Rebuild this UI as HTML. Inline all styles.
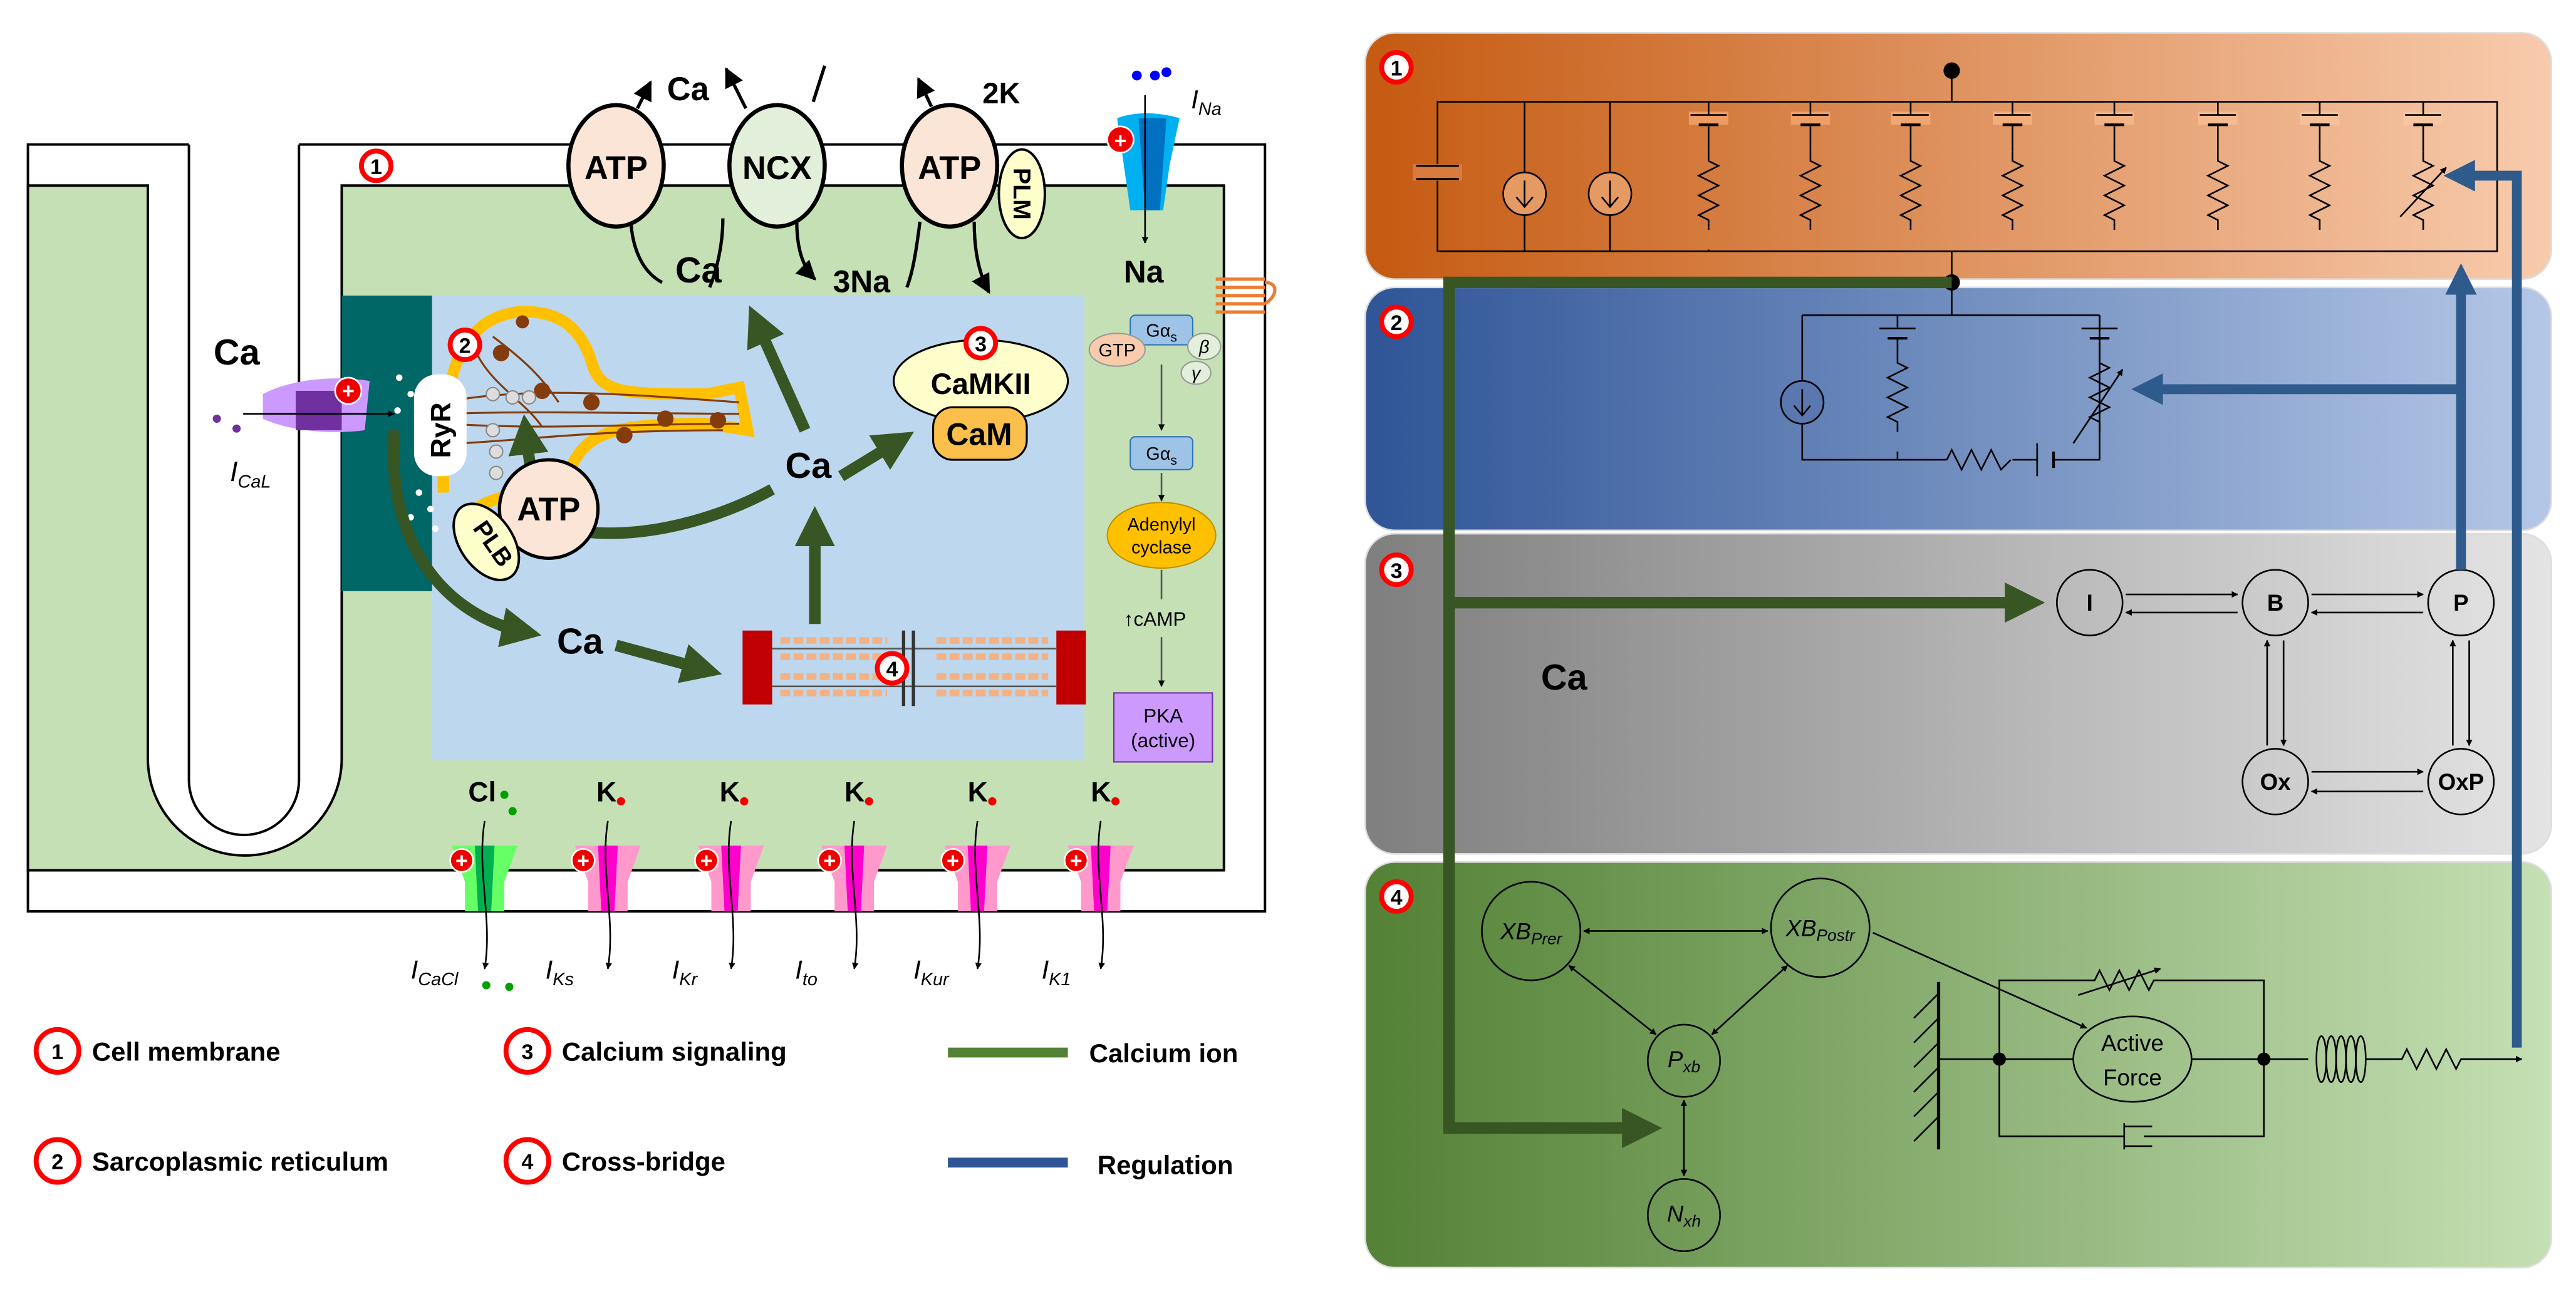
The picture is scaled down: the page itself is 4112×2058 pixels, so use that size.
<!DOCTYPE html>
<html><head><meta charset="utf-8"><style>
html,body{margin:0;padding:0;background:#fff}
svg{display:block}
text{font-family:"Liberation Sans",sans-serif}
</style></head><body>
<svg width="4112" height="2058" viewBox="0 0 1568 785" preserveAspectRatio="none" xmlns="http://www.w3.org/2000/svg">
<defs>
<marker id="ab" viewBox="0 0 10 10" refX="9" refY="5" markerWidth="6" markerHeight="6" orient="auto-start-reverse"><path d="M0,0L10,5L0,10z" fill="#000"/></marker>
<marker id="abs" viewBox="0 0 10 10" refX="9" refY="5" markerWidth="4" markerHeight="4" orient="auto-start-reverse"><path d="M0,0L10,5L0,10z" fill="#000"/></marker>
<marker id="ag" viewBox="0 0 10 10" refX="6" refY="5" markerWidth="3.5" markerHeight="3.5" orient="auto"><path d="M0,0L10,5L0,10z" fill="#375623"/></marker>
<marker id="abl" viewBox="0 0 10 10" refX="6" refY="5" markerWidth="3.2" markerHeight="3.2" orient="auto"><path d="M0,0L10,5L0,10z" fill="#2e5b8c"/></marker>
<linearGradient id="g1" x1="0" x2="1"><stop offset="0" stop-color="#c55a11"/><stop offset="1" stop-color="#f8cbad"/></linearGradient>
<linearGradient id="g2" x1="0" x2="1"><stop offset="0" stop-color="#2f5597"/><stop offset="1" stop-color="#b4c7e7"/></linearGradient>
<linearGradient id="g3" x1="0" x2="1"><stop offset="0" stop-color="#7f7f7f"/><stop offset="1" stop-color="#e4e4e4"/></linearGradient>
<linearGradient id="g4" x1="0" x2="1"><stop offset="0" stop-color="#538135"/><stop offset="1" stop-color="#c5e0b4"/></linearGradient>
<g id="res"><path d="M0,0 v6 l6,3 l-12,6 l12,6 l-12,6 l12,6 l-12,6 l6,3 v6" fill="none" stroke="#000" stroke-width="1"/></g>
<g id="bat"><line x1="-11" y1="0" x2="11" y2="0" stroke="#000"/><line x1="-6" y1="6" x2="6" y2="6" stroke="#000" stroke-width="1.6"/></g>
<g id="chK"><path d="M-20,-10 H20 L12,12 V30 H-12 V12 Z" fill="#ff99cc"/><path d="M-6,-10 H6 L4,30 H-4 Z" fill="#ff00cc"/></g>
</defs>

<!-- LEFT CELL -->
<rect x="17" y="88" width="753" height="467" fill="#fff"/>
<path d="M115,88 H17 V555 H770 V88 H182" fill="none" stroke="#000" stroke-width="1.5"/>
<path d="M17,113 H90 V462 A59,59 0 0 0 208,462 V113 H745 V530 H17 Z" fill="#c5e0b4" stroke="#000" stroke-width="1.5"/>
<path d="M115,88 V475 A33.5,33.5 0 0 0 182,475 V88" fill="#fff" stroke="#000" stroke-width="1.5"/>
<rect x="115.8" y="80" width="65.4" height="9" fill="#fff"/>
<rect x="263" y="180" width="397" height="283" fill="#bdd7ee"/>
<rect x="208" y="180" width="55" height="180" fill="#006666"/>

<!-- SR -->
<path d="M270,300 C268,240 275,195 315,190 C345,188 355,205 360,220 C365,240 380,240 430,240 L450,236 L455,262 L430,258 C380,258 360,262 350,280 C340,300 300,300 290,310" fill="none" stroke="#ffc000" stroke-width="7"/>
<g stroke="#843c0c" stroke-width="1.2" fill="none">
<path d="M270,245 C320,235 380,240 450,245"/><path d="M272,252 C330,250 390,252 450,252"/><path d="M272,258 C330,262 390,258 450,258"/><path d="M280,270 C320,268 360,262 440,262"/><path d="M300,205 C320,220 330,230 340,245"/><path d="M290,215 C300,235 320,245 330,260"/>
</g>
<g fill="#843c0c"><circle cx="305" cy="215" r="5"/><circle cx="330" cy="238" r="5"/><circle cx="360" cy="245" r="5"/><circle cx="380" cy="265" r="5"/><circle cx="405" cy="255" r="5"/><circle cx="437" cy="256" r="5"/><circle cx="318" cy="196" r="4"/></g>
<g fill="#ddd" stroke="#888" stroke-width="0.8"><circle cx="300" cy="240" r="4"/><circle cx="312" cy="242" r="4"/><circle cx="322" cy="242" r="4"/><circle cx="300" cy="262" r="4"/><circle cx="302" cy="275" r="4"/><circle cx="302" cy="288" r="4"/></g>
<rect x="252" y="228" width="32" height="62" rx="14" fill="#fff"/>
<text x="0" y="0" transform="translate(274,262) rotate(-90)" font-size="17" font-weight="bold" text-anchor="middle">RyR</text>
<g fill="#fff"><circle cx="243" cy="230" r="2"/><circle cx="250" cy="240" r="2"/><circle cx="242" cy="250" r="2"/><circle cx="255" cy="300" r="2"/><circle cx="262" cy="310" r="2"/><circle cx="250" cy="315" r="2"/><circle cx="265" cy="322" r="2"/></g>

<!-- L-type channel -->
<path d="M160,240 C175,232 200,228 225,232 L222,262 C200,265 175,262 160,255 Z" fill="#cc99ff"/>
<path d="M180,238 H208 V262 H180 Z" fill="#7030a0"/>
<line x1="148" y1="252" x2="240" y2="252" stroke="#000" marker-end="url(#abs)"/>
<circle cx="212" cy="238" r="8" fill="#e00" stroke="#fff"/><text x="212" y="242.5" font-size="13" font-weight="bold" fill="#fff" text-anchor="middle">+</text>
<circle cx="132" cy="255" r="2.5" fill="#7030a0"/><circle cx="144" cy="261" r="2.5" fill="#7030a0"/>
<text x="130" y="222" font-size="22" font-weight="bold">Ca</text>
<text x="140" y="293" font-size="17" font-style="italic">I<tspan font-size="11" dy="4">CaL</tspan></text>

<!-- top transporters -->
<g stroke="#000" stroke-width="2" fill="none">
<path d="M384,135 C385,150 390,165 403,172"/><path d="M388,66 L396,50" marker-end="url(#ab)"/>
<path d="M440,133 C440,150 436,165 432,175"/><path d="M454,66 L442,42" marker-end="url(#ab)"/>
<path d="M485,135 C485,150 488,162 496,170" marker-end="url(#ab)"/><path d="M495,62 L502,40"/>
<path d="M560,135 C558,150 556,165 552,175"/><path d="M567,65 L559,48" marker-end="url(#ab)"/>
<path d="M593,135 C593,150 595,165 602,178" marker-end="url(#ab)"/>
</g>
<ellipse cx="375" cy="101" rx="29" ry="37" fill="#fbe5d6" stroke="#000" stroke-width="2.5"/>
<text x="375" y="109" font-size="20" font-weight="bold" text-anchor="middle">ATP</text>
<ellipse cx="473" cy="101" rx="29" ry="37" fill="#e2efda" stroke="#000" stroke-width="2.5"/>
<text x="473" y="109" font-size="20" font-weight="bold" text-anchor="middle">NCX</text>
<ellipse cx="578" cy="101" rx="29" ry="37" fill="#fbe5d6" stroke="#000" stroke-width="2.5"/>
<text x="578" y="109" font-size="20" font-weight="bold" text-anchor="middle">ATP</text>
<ellipse cx="622" cy="118" rx="14" ry="27" fill="#ffffcc" stroke="#000" stroke-width="1.5"/>
<text transform="translate(622,118) rotate(90)" font-size="15" font-weight="bold" text-anchor="middle" dominant-baseline="central">PLM</text>
<text x="406" y="61" font-size="20" font-weight="bold">Ca</text>
<text x="598" y="63" font-size="18" font-weight="bold">2K</text>
<text x="411" y="172" font-size="22" font-weight="bold">Ca</text>
<text x="507" y="178" font-size="19" font-weight="bold">3Na</text>
<circle cx="229" cy="101" r="9" fill="#fff" stroke="#f00" stroke-width="3"/><text x="229" y="106" font-size="13" font-weight="bold" text-anchor="middle">1</text>

<!-- INa -->
<path d="M680,72 C690,68 705,68 718,72 L712,100 L708,128 H688 L684,100 Z" fill="#00b0f0"/>
<path d="M693,72 H710 L706,128 H697 Z" fill="#0070c0"/>
<circle cx="682" cy="85" r="8" fill="#e00" stroke="#fff"/><text x="682" y="90" font-size="13" font-weight="bold" fill="#fff" text-anchor="middle">+</text>
<line x1="697" y1="58" x2="697" y2="148" stroke="#000" marker-end="url(#abs)"/>
<circle cx="692" cy="46" r="3" fill="#0000ff"/><circle cx="703" cy="46" r="3" fill="#0000ff"/><circle cx="710" cy="44" r="3" fill="#0000ff"/>
<text x="725" y="66" font-size="16" font-style="italic">I<tspan font-size="11" dy="4">Na</tspan></text>
<text x="684" y="172" font-size="19" font-weight="bold">Na</text>
<path d="M740,170 h30 M740,175 h30 M740,180 h30 M740,185 h30 M740,190 h30 M770,172 c8,0 8,8 0,13" stroke="#ed7d31" stroke-width="2" fill="none"/>

<!-- signaling column -->
<rect x="688" y="192" width="38" height="18" rx="3" fill="#9dc3e6" stroke="#2e75b6" stroke-width="0.8"/>
<text x="707" y="205" font-size="11" text-anchor="middle">Gα<tspan font-size="8" dy="3">s</tspan></text>
<ellipse cx="680" cy="213" rx="17" ry="10" fill="#f8cbad" stroke="#999" stroke-width="0.8"/><text x="680" y="217" font-size="11" text-anchor="middle">GTP</text>
<ellipse cx="733" cy="211" rx="10" ry="8" fill="#e2efda" stroke="#999" stroke-width="0.8"/><text x="733" y="215" font-size="11" font-style="italic" text-anchor="middle">β</text>
<ellipse cx="728" cy="227" rx="9" ry="7" fill="#e2efda" stroke="#999" stroke-width="0.8"/><text x="728" y="231" font-size="11" font-style="italic" text-anchor="middle">γ</text>
<line x1="707" y1="222" x2="707" y2="262" stroke="#555" marker-end="url(#abs)"/>
<rect x="688" y="266" width="38" height="20" rx="3" fill="#9dc3e6" stroke="#2e75b6" stroke-width="0.8"/>
<text x="707" y="280" font-size="11" text-anchor="middle">Gα<tspan font-size="8" dy="3">s</tspan></text>
<line x1="707" y1="288" x2="707" y2="305" stroke="#555" marker-end="url(#abs)"/>
<ellipse cx="707" cy="326" rx="33" ry="20" fill="#ffc000" stroke="#bf9000" stroke-width="0.8"/>
<text x="707" y="323" font-size="11" text-anchor="middle">Adenylyl</text><text x="707" y="337" font-size="11" text-anchor="middle">cyclase</text>
<line x1="707" y1="347" x2="707" y2="365" stroke="#555"/>
<text x="703" y="381" font-size="12" text-anchor="middle">↑cAMP</text>
<line x1="707" y1="388" x2="707" y2="418" stroke="#555" marker-end="url(#abs)"/>
<rect x="678" y="422" width="60" height="42" fill="#cc99ff" stroke="#7030a0" stroke-width="0.8"/>
<text x="708" y="440" font-size="12" text-anchor="middle">PKA</text><text x="708" y="455" font-size="12" text-anchor="middle">(active)</text>

<!-- CaMKII -->
<ellipse cx="597" cy="232" rx="53" ry="25" fill="#ffffcc" stroke="#000" stroke-width="1.2"/>
<text x="597" y="240" font-size="18" font-weight="bold" text-anchor="middle">CaMKII</text>
<rect x="568" y="248" width="57" height="32" rx="12" fill="#fbc04c" stroke="#000" stroke-width="1.2"/>
<text x="596" y="271" font-size="19" font-weight="bold" text-anchor="middle">CaM</text>
<circle cx="597" cy="209" r="9" fill="#fff" stroke="#f00" stroke-width="3"/><text x="597" y="214" font-size="13" font-weight="bold" text-anchor="middle">3</text>
<circle cx="283" cy="210" r="9" fill="#fff" stroke="#f00" stroke-width="3"/><text x="283" y="215" font-size="13" font-weight="bold" text-anchor="middle">2</text>

<!-- myofilament -->
<g>
<rect x="452" y="384" width="18" height="45" fill="#c00000"/><rect x="643" y="384" width="18" height="45" fill="#c00000"/>
<line x1="470" y1="395" x2="643" y2="395" stroke="#555"/><line x1="470" y1="418" x2="643" y2="418" stroke="#555"/>
<g stroke="#f4b183" stroke-width="4" stroke-dasharray="6,2"><line x1="475" y1="390" x2="540" y2="390"/><line x1="475" y1="400" x2="540" y2="400"/><line x1="475" y1="412" x2="540" y2="412"/><line x1="475" y1="422" x2="540" y2="422"/><line x1="570" y1="390" x2="638" y2="390"/><line x1="570" y1="400" x2="638" y2="400"/><line x1="570" y1="412" x2="638" y2="412"/><line x1="570" y1="422" x2="638" y2="422"/></g>
<line x1="550" y1="384" x2="550" y2="430" stroke="#333" stroke-width="2"/><line x1="556" y1="384" x2="556" y2="430" stroke="#333" stroke-width="2"/>
<circle cx="543" cy="407" r="9" fill="#fff" stroke="#f00" stroke-width="3"/><text x="543" y="412" font-size="13" font-weight="bold" text-anchor="middle">4</text>
</g>

<!-- green Ca arrows -->
<g stroke="#375623" stroke-width="7" fill="none">
<path d="M490,262 L460,195" marker-end="url(#ag)"/>
<path d="M512,290 L548,268" marker-end="url(#ag)"/>
<path d="M496,380 L496,318" marker-end="url(#ag)"/>
<path d="M470,298 C430,320 380,330 345,322 C325,315 322,280 320,262" marker-end="url(#ag)"/>
<path d="M240,262 C235,330 270,375 320,385" marker-end="url(#ag)"/>
<path d="M375,393 L430,408" marker-end="url(#ag)"/>
</g>
<circle cx="334" cy="310" r="30" fill="#fbe5d6" stroke="#000" stroke-width="2"/>
<text x="334" y="317" font-size="20" font-weight="bold" text-anchor="middle">ATP</text>
<ellipse cx="296" cy="330" rx="16" ry="26" transform="rotate(-35 296 330)" fill="#ffffcc" stroke="#000" stroke-width="1.5"/>
<text transform="translate(296,334) rotate(55)" font-size="15" font-weight="bold" text-anchor="middle">PLB</text>
<text x="478" y="291" font-size="22" font-weight="bold">Ca</text>
<text x="339" y="398" font-size="22" font-weight="bold">Ca</text>

<!-- bottom channels -->
<path d="M275,515 H315 L307,537 V555 H283 V537 Z" fill="#66ff66"/><path d="M289,515 H301 L299,555 H291 Z" fill="#00b050"/>
<g transform="translate(370,525)"><use href="#chK"/></g>
<g transform="translate(445,525)"><use href="#chK"/></g>
<g transform="translate(520,525)"><use href="#chK"/></g>
<g transform="translate(595,525)"><use href="#chK"/></g>
<g transform="translate(670,525)"><use href="#chK"/></g>
<g stroke="#000" stroke-width="1" fill="none">
<path d="M295,500 C290,530 300,560 295,590" marker-end="url(#abs)"/>
<path d="M370,500 C365,530 375,560 370,590" marker-end="url(#abs)"/>
<path d="M445,500 C440,530 450,560 445,590" marker-end="url(#abs)"/>
<path d="M520,500 C515,530 525,560 520,590" marker-end="url(#abs)"/>
<path d="M595,500 C590,530 600,560 595,590" marker-end="url(#abs)"/>
<path d="M670,500 C665,530 675,560 670,590" marker-end="url(#abs)"/>
</g>
<g font-size="13" font-weight="bold" fill="#fff">
<circle cx="281" cy="524" r="7" fill="#e00" stroke="#fff"/><text x="281" y="528.5" text-anchor="middle">+</text>
<circle cx="355" cy="524" r="7" fill="#e00" stroke="#fff"/><text x="355" y="528.5" text-anchor="middle">+</text>
<circle cx="430" cy="524" r="7" fill="#e00" stroke="#fff"/><text x="430" y="528.5" text-anchor="middle">+</text>
<circle cx="505" cy="524" r="7" fill="#e00" stroke="#fff"/><text x="505" y="528.5" text-anchor="middle">+</text>
<circle cx="580" cy="524" r="7" fill="#e00" stroke="#fff"/><text x="580" y="528.5" text-anchor="middle">+</text>
<circle cx="655" cy="524" r="7" fill="#e00" stroke="#fff"/><text x="655" y="528.5" text-anchor="middle">+</text>
</g>
<g font-size="17" font-weight="bold">
<text x="285" y="488">Cl</text><text x="363" y="488">K</text><text x="438" y="488">K</text><text x="514" y="488">K</text><text x="589" y="488">K</text><text x="664" y="488">K</text>
</g>
<g fill="#00a000"><circle cx="307" cy="484" r="2.5"/><circle cx="312" cy="494" r="2.5"/><circle cx="296" cy="600" r="2.5"/><circle cx="310" cy="601" r="2.5"/></g>
<g fill="#e00"><circle cx="378" cy="488" r="2.5"/><circle cx="453" cy="488" r="2.5"/><circle cx="529" cy="488" r="2.5"/><circle cx="604" cy="488" r="2.5"/><circle cx="679" cy="488" r="2.5"/></g>
<g font-size="16" font-style="italic">
<text x="250" y="596">I<tspan font-size="11" dy="4">CaCl</tspan></text>
<text x="332" y="596">I<tspan font-size="11" dy="4">Ks</tspan></text>
<text x="409" y="596">I<tspan font-size="11" dy="4">Kr</tspan></text>
<text x="484" y="596">I<tspan font-size="11" dy="4">to</tspan></text>
<text x="556" y="596">I<tspan font-size="11" dy="4">Kur</tspan></text>
<text x="634" y="596">I<tspan font-size="11" dy="4">K1</tspan></text>
</g>

<!-- legend -->
<g font-size="16" font-weight="bold">
<circle cx="35" cy="640" r="13" fill="#fff" stroke="#f00" stroke-width="3"/><text x="35" y="645" font-size="13" text-anchor="middle">1</text><text x="56" y="646">Cell membrane</text>
<circle cx="35" cy="707" r="13" fill="#fff" stroke="#f00" stroke-width="3"/><text x="35" y="712" font-size="13" text-anchor="middle">2</text><text x="56" y="713">Sarcoplasmic reticulum</text>
<circle cx="321" cy="640" r="13" fill="#fff" stroke="#f00" stroke-width="3"/><text x="321" y="645" font-size="13" text-anchor="middle">3</text><text x="342" y="646">Calcium signaling</text>
<circle cx="321" cy="707" r="13" fill="#fff" stroke="#f00" stroke-width="3"/><text x="321" y="712" font-size="13" text-anchor="middle">4</text><text x="342" y="713">Cross-bridge</text>
<line x1="577" y1="641" x2="650" y2="641" stroke="#548235" stroke-width="6"/><text x="663" y="647">Calcium ion</text>
<line x1="577" y1="708" x2="650" y2="708" stroke="#2f5597" stroke-width="6"/><text x="668" y="715">Regulation</text>
</g>

<!-- RIGHT PANEL -->
<rect x="831" y="20" width="722" height="150" rx="18" fill="url(#g1)" stroke="#ddd"/>
<rect x="831" y="175" width="722" height="148" rx="18" fill="url(#g2)" stroke="#ddd"/>
<rect x="831" y="325" width="722" height="195" rx="18" fill="url(#g3)" stroke="#ddd"/>
<rect x="831" y="525" width="722" height="247" rx="18" fill="url(#g4)" stroke="#ddd"/>
<g font-size="13" font-weight="bold">
<circle cx="850" cy="41" r="9" fill="#fff" stroke="#f00" stroke-width="3"/><text x="850" y="46" text-anchor="middle">1</text>
<circle cx="850" cy="196" r="9" fill="#fff" stroke="#f00" stroke-width="3"/><text x="850" y="201" text-anchor="middle">2</text>
<circle cx="850" cy="347" r="9" fill="#fff" stroke="#f00" stroke-width="3"/><text x="850" y="352" text-anchor="middle">3</text>
<circle cx="850" cy="546" r="9" fill="#fff" stroke="#f00" stroke-width="3"/><text x="850" y="551" text-anchor="middle">4</text>
</g>

<!-- circuit 1 -->
<g stroke="#000" stroke-width="1" fill="none">
<rect x="875" y="62" width="645" height="91"/>
<line x1="1188" y1="43" x2="1188" y2="62"/><line x1="1188" y1="153" x2="1188" y2="172"/>
<line x1="928" y1="62" x2="928" y2="153"/><line x1="980" y1="62" x2="980" y2="153"/>
</g>
<rect x="860" y="100" width="30" height="10" fill="#d97b3e"/>
<line x1="862" y1="101" x2="888" y2="101" stroke="#000" stroke-width="1.2"/><line x1="862" y1="109" x2="888" y2="109" stroke="#000" stroke-width="1.2"/>
<g stroke="#000" fill="#e59a63"><circle cx="928" cy="118" r="13"/><circle cx="980" cy="118" r="13"/></g>
<g stroke="#000" fill="none"><path d="M928,110 v15 M923,120 l5,6 l5,-6 M980,110 v15 M975,120 l5,6 l5,-6"/></g>
<circle cx="1188" cy="43" r="5" fill="#000"/><circle cx="1188" cy="172" r="5" fill="#000"/>
<g>
<g transform="translate(1040,62)"><rect x="-12" y="6" width="24" height="8" fill="#ed9b62"/><line y1="0" y2="8" stroke="#000"/><use href="#bat" y="8"/><line y1="14" y2="30" stroke="#000"/><use href="#res" y="30"/><line y1="90" y2="91" stroke="#000"/></g>
<g transform="translate(1102,62)"><rect x="-12" y="6" width="24" height="8" fill="#ee9f68"/><line y1="0" y2="8" stroke="#000"/><use href="#bat" y="8"/><line y1="14" y2="30" stroke="#000"/><use href="#res" y="30"/></g>
<g transform="translate(1163,62)"><rect x="-12" y="6" width="24" height="8" fill="#f0a670"/><line y1="0" y2="8" stroke="#000"/><use href="#bat" y="8"/><line y1="14" y2="30" stroke="#000"/><use href="#res" y="30"/></g>
<g transform="translate(1225,62)"><rect x="-12" y="6" width="24" height="8" fill="#f2ad7b"/><line y1="0" y2="8" stroke="#000"/><use href="#bat" y="8"/><line y1="14" y2="30" stroke="#000"/><use href="#res" y="30"/></g>
<g transform="translate(1287,62)"><rect x="-12" y="6" width="24" height="8" fill="#f3b485"/><line y1="0" y2="8" stroke="#000"/><use href="#bat" y="8"/><line y1="14" y2="30" stroke="#000"/><use href="#res" y="30"/></g>
<g transform="translate(1350,62)"><rect x="-12" y="6" width="24" height="8" fill="#f5ba8f"/><line y1="0" y2="8" stroke="#000"/><use href="#bat" y="8"/><line y1="14" y2="30" stroke="#000"/><use href="#res" y="30"/></g>
<g transform="translate(1412,62)"><rect x="-12" y="6" width="24" height="8" fill="#f6c199"/><line y1="0" y2="8" stroke="#000"/><use href="#bat" y="8"/><line y1="14" y2="30" stroke="#000"/><use href="#res" y="30"/></g>
<g transform="translate(1475,62)"><rect x="-12" y="6" width="24" height="8" fill="#f7c6a3"/><line y1="0" y2="8" stroke="#000"/><use href="#bat" y="8"/><line y1="14" y2="30" stroke="#000"/><use href="#res" y="30"/><line x1="-14" y1="70" x2="14" y2="40" stroke="#000" marker-end="url(#abs)"/></g>
</g>

<!-- circuit 2 -->
<g stroke="#000" stroke-width="1" fill="none">
<path d="M1188,172 V192 M1097,192 H1278 M1097,192 V280 H1185 M1225,280 H1240 M1250,280 H1278 V192"/>
<line x1="1155" y1="192" x2="1155" y2="200"/><line x1="1155" y1="206" x2="1155" y2="215"/><line x1="1155" y1="275" x2="1155" y2="280"/>
<line x1="1278" y1="192" x2="1278" y2="200"/><line x1="1278" y1="206" x2="1278" y2="215"/>
<circle cx="1097" cy="245" r="13" fill="#5a77b0"/><path d="M1097,237 v15 M1092,247 l5,6 l5,-6"/>
<path d="M1185,280 l3,-6 l6,12 l6,-12 l6,12 l6,-12 l6,12 l6,-6"/>
<line x1="1240" y1="270" x2="1240" y2="290"/><line x1="1250" y1="275" x2="1250" y2="285" stroke-width="1.6"/>
<line x1="1262" y1="270" x2="1292" y2="225" marker-end="url(#abs)"/>
</g>
<use href="#bat" x="1155" y="200"/><use href="#res" x="1155" y="215"/>
<use href="#bat" x="1278" y="200"/><use href="#res" x="1278" y="215"/>

<!-- circuit 3 -->
<g stroke="#000" stroke-width="1" fill="none">
<circle cx="1272" cy="367" r="20"/><circle cx="1385" cy="367" r="20"/><circle cx="1498" cy="367" r="20"/><circle cx="1385" cy="476" r="20"/><circle cx="1498" cy="476" r="20"/>
<line x1="1294" y1="362" x2="1362" y2="362" marker-end="url(#abs)"/><line x1="1362" y1="373" x2="1294" y2="373" marker-end="url(#abs)"/>
<line x1="1407" y1="362" x2="1475" y2="362" marker-end="url(#abs)"/><line x1="1475" y1="373" x2="1407" y2="373" marker-end="url(#abs)"/>
<line x1="1407" y1="470" x2="1475" y2="470" marker-end="url(#abs)"/><line x1="1475" y1="482" x2="1407" y2="482" marker-end="url(#abs)"/>
<line x1="1380" y1="454" x2="1380" y2="390" marker-end="url(#abs)"/><line x1="1390" y1="390" x2="1390" y2="454" marker-end="url(#abs)"/>
<line x1="1493" y1="454" x2="1493" y2="390" marker-end="url(#abs)"/><line x1="1503" y1="390" x2="1503" y2="454" marker-end="url(#abs)"/>
</g>
<g font-size="14" font-weight="bold" text-anchor="middle">
<text x="1272" y="372">I</text><text x="1385" y="372">B</text><text x="1498" y="372">P</text><text x="1385" y="481">Ox</text><text x="1498" y="481">OxP</text>
</g>
<text x="938" y="420" font-size="22" font-weight="bold">Ca</text>

<!-- circuit 4 -->
<g stroke="#000" stroke-width="1" fill="none">
<circle cx="932" cy="567" r="30"/><circle cx="1108" cy="565" r="30"/><circle cx="1025" cy="646" r="22"/><circle cx="1025" cy="740" r="22"/>
<line x1="964" y1="567" x2="1076" y2="567" marker-end="url(#abs)" marker-start="url(#abs)"/>
<line x1="955" y1="588" x2="1008" y2="630" marker-end="url(#abs)" marker-start="url(#abs)"/>
<line x1="1088" y1="588" x2="1042" y2="630" marker-end="url(#abs)" marker-start="url(#abs)"/>
<line x1="1025" y1="670" x2="1025" y2="716" marker-end="url(#abs)" marker-start="url(#abs)"/>
<line x1="1140" y1="568" x2="1270" y2="626" marker-end="url(#abs)"/>
<line x1="1180" y1="598" x2="1180" y2="700" stroke-width="2"/>
<path d="M1180,605 l-15,15 M1180,620 l-15,15 M1180,635 l-15,15 M1180,650 l-15,15 M1180,665 l-15,15 M1180,680 l-15,15"/>
<line x1="1180" y1="645" x2="1262" y2="645"/><line x1="1334" y1="645" x2="1405" y2="645"/>
<path d="M1217,645 V597 H1275 l3,-6 l6,12 l6,-12 l6,12 l6,-12 l6,12 l3,-6 H1378 V692 H1305 M1293,692 H1217 V645"/>
<path d="M1293,684 V700 M1293,686 H1310 M1293,698 H1310"/>
<line x1="1265" y1="606" x2="1315" y2="590" marker-end="url(#abs)"/>
<ellipse cx="1298" cy="645" rx="36" ry="26"/>
<ellipse cx="1413" cy="645" rx="3" ry="14"/><ellipse cx="1419" cy="645" rx="3" ry="14"/><ellipse cx="1425" cy="645" rx="3" ry="14"/><ellipse cx="1431" cy="645" rx="3" ry="14"/><ellipse cx="1437" cy="645" rx="3" ry="14"/>
<path d="M1440,645 H1462 l3,-6 l6,12 l6,-12 l6,12 l6,-12 l6,12 l3,-6 H1535" marker-end="url(#abs)"/>
</g>
<circle cx="1217" cy="645" r="4" fill="#000"/><circle cx="1378" cy="645" r="4" fill="#000"/>
<g font-size="14" font-style="italic" text-anchor="middle">
<text x="932" y="572">XB<tspan font-size="10" dy="3">Prer</tspan></text>
<text x="1108" y="570">XB<tspan font-size="10" dy="3">Postr</tspan></text>
<text x="1025" y="650">P<tspan font-size="10" dy="3">xb</tspan></text>
<text x="1025" y="744">N<tspan font-size="10" dy="3">xh</tspan></text>
</g>
<text x="1298" y="640" font-size="14" text-anchor="middle">Active</text>
<text x="1298" y="661" font-size="14" text-anchor="middle">Force</text>

<!-- thick connectors -->
<g fill="none" stroke-linejoin="miter">
<path d="M1188,172 H882 V687 H1002" stroke="#375623" stroke-width="7" marker-end="url(#ag)"/>
<path d="M882,367 H1235" stroke="#375623" stroke-width="7" marker-end="url(#ag)"/>
<path d="M1498,347 V168" stroke="#2e5b8c" stroke-width="6" marker-end="url(#abl)"/>
<path d="M1498,237 H1305" stroke="#2e5b8c" stroke-width="6" marker-end="url(#abl)"/>
<path d="M1532,638 V107 H1495" stroke="#2e5b8c" stroke-width="6" marker-end="url(#abl)"/>
</g>
</svg>
</body></html>
